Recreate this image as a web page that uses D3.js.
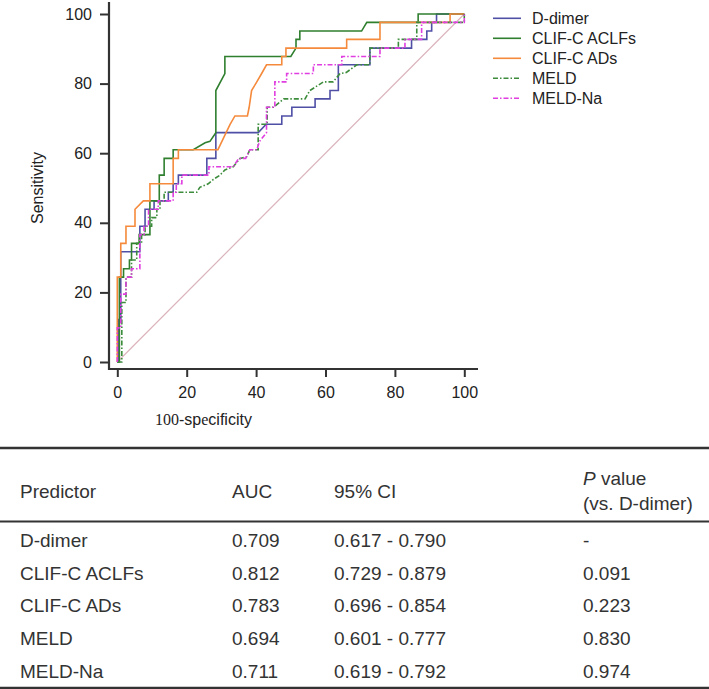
<!DOCTYPE html>
<html><head><meta charset="utf-8">
<script src="https://cdn.jsdelivr.net/npm/d3@7/dist/d3.min.js"></script>
<style>body{margin:0;background:#fff}svg{display:block}</style>
</head><body><svg id="c" width="709" height="689"></svg>
<script>
// ---- data (100-specificity, sensitivity) ----
const seriesNames = ["D-dimer","CLIF-C ACLFs","CLIF-C ADs","MELD","MELD-Na"];
const dDimer = [[0,0],[0.3,0],[0.3,12.2],[1.0,12.2],[1.0,31.7],[6.5,31.7],[6.5,39.0],[8.0,39.0],[8.0,43.9],[10.6,43.9],[10.6,46.3],[14.7,46.3],[14.7,48.8],[16.1,48.8],[16.1,51.2],[17.6,51.2],[17.6,53.7],[25.8,53.7],[25.8,58.5],[28.4,58.5],[28.4,65.9],[40.6,65.9],[42.9,68.3],[47.4,68.3],[47.4,70.7],[50.3,70.7],[50.3,73.2],[57.0,73.2],[57.0,75.6],[61.3,75.6],[61.3,78.0],[63.7,78.0],[63.7,85.4],[72.8,85.4],[72.8,90.2],[84.8,90.2],[84.8,92.7],[89.2,92.7],[89.2,95.1],[90.6,95.1],[90.6,97.6],[92.0,97.6],[92.0,100],[100,100]];
const clifAclf = [[0,0],[0.6,0],[0.6,24.4],[1.8,24.4],[1.8,26.8],[3.5,26.8],[3.5,29.3],[4.1,29.3],[4.1,34.1],[6.3,34.1],[6.3,36.6],[9.4,36.6],[9.4,46.3],[12.1,46.3],[12.1,53.7],[13.5,53.7],[13.5,58.5],[16.1,58.5],[16.1,61.0],[21.9,61.0],[25.3,63.0],[26.7,63.4],[28.4,65.9],[28.4,78.0],[31.0,82.9],[31.0,87.8],[50.0,87.8],[51.5,90.2],[51.5,92.7],[52.6,92.7],[52.6,95.1],[70.4,95.1],[71.9,97.6],[86.7,97.6],[86.7,100],[100,100]];
const clifAd = [[0,0],[0,24.4],[1.0,24.4],[1.0,34.1],[2.5,34.1],[2.5,39.0],[5.1,39.0],[5.1,43.9],[7.5,46.3],[9.4,46.3],[9.4,51.2],[16.1,51.2],[16.1,58.5],[17.6,58.5],[17.6,61.0],[29.0,61.0],[32.5,68.3],[33.9,70.7],[37.5,70.7],[38.0,73.2],[38.7,78.0],[40.2,80.5],[41.6,82.9],[43.0,85.4],[47.4,85.4],[47.4,87.8],[48.6,87.8],[48.6,90.2],[66.1,90.2],[66.1,92.7],[75.7,92.7],[75.7,97.6],[95.9,97.6],[95.9,100],[100,100]];
const meld = [[0,0],[1.3,0],[1.3,17.1],[2.5,17.1],[2.5,24.4],[4.1,24.4],[4.1,29.3],[5.6,29.3],[5.6,34.1],[7.0,34.1],[7.0,36.6],[8.0,36.6],[8.0,39.0],[9.9,39.0],[9.9,41.5],[11.4,41.5],[11.4,43.9],[12.3,43.9],[12.3,46.3],[13.5,46.3],[13.5,48.8],[22.9,48.8],[23.8,50.2],[26.2,51.2],[27.7,52.5],[29.6,53.7],[31.0,55.2],[33.4,56.1],[35.4,58.5],[37.3,59.0],[38.2,61.0],[40.6,61.0],[40.6,68.3],[43.2,68.3],[43.2,73.2],[45.0,73.2],[48.0,75.6],[54.1,75.6],[55.5,78.0],[59.4,80.5],[62.2,80.5],[64.2,82.9],[66.0,83.2],[69.0,85.4],[72.8,85.4],[72.8,90.2],[81.0,90.2],[81.0,92.7],[86.3,92.7],[86.3,97.6],[100,97.6],[100,100]];
const meldNa = [[0,0],[0,9.8],[1.0,9.8],[1.0,19.5],[2.5,19.5],[2.5,24.4],[4.1,24.4],[4.1,26.8],[6.5,26.8],[6.5,36.6],[7.7,36.6],[7.7,39.0],[9.0,39.0],[9.0,43.9],[11.8,43.9],[11.8,46.3],[16.1,46.3],[16.1,48.8],[17.0,48.8],[17.0,51.2],[18.6,51.2],[18.6,53.7],[26.4,53.7],[26.4,56.1],[33.4,56.1],[35.0,58.5],[37.0,58.5],[38.2,61.0],[40.2,61.0],[41.0,63.4],[43.0,65.9],[43.0,73.2],[45.4,73.2],[45.4,80.5],[48.8,80.5],[48.8,82.9],[56.5,82.9],[56.5,85.4],[64.7,85.4],[64.7,87.8],[75.7,87.8],[75.7,90.2],[82.9,90.2],[82.9,92.7],[87.7,92.7],[87.7,97.6],[100,97.6],[100,100]];
const referenceLine = [[0,0],[100,100]];
const xTicks = [0,20,40,60,80,100];
const yTicks = [0,20,40,60,80,100];

const tableHeaders = ["Predictor","AUC","95% CI"];
const predictors = ["D-dimer","CLIF-C ACLFs","CLIF-C ADs","MELD","MELD-Na"];
const aucValues = ["0.709","0.812","0.783","0.694","0.711"];
const ciValues = ["0.617 - 0.790","0.729 - 0.879","0.696 - 0.854","0.601 - 0.777","0.619 - 0.792"];
const pValues = ["-","0.091","0.223","0.830","0.974"];

// ---- styles ----
const seriesData = [dDimer, clifAclf, clifAd, meld, meldNa];
const colors = ["#4f4fa6","#2f7f2f","#f58a3c","#3c8c3c","#e03ee0"];
const dashes = [null,null,null,"5,2,1.5,2","5,2,1.5,2"];
const sansFont = "'Liberation Sans', Arial, sans-serif";
const serifFont = "'Liberation Serif', 'Times New Roman', serif";

const svg = d3.select("#c");
const x = d3.scaleLinear().domain([0,100]).range([117.3,464.3]);
const y = d3.scaleLinear().domain([0,100]).range([362,14]);
const axisX0 = 109, axisY0 = 369;

// axes
const gy = svg.append("g").attr("transform",`translate(${axisX0},0)`)
  .call(d3.axisLeft(y).tickValues(yTicks).tickSize(9).tickPadding(8));
const gx = svg.append("g").attr("transform",`translate(0,${axisY0})`)
  .call(d3.axisBottom(x).tickValues(xTicks).tickSize(8).tickPadding(10));
[gx,gy].forEach(g=>{
  g.select(".domain").remove();
  g.selectAll("line").attr("stroke","#333").attr("stroke-width",2);
  g.selectAll("text").attr("font-family",sansFont).attr("font-size",16).attr("fill","#222");
});
svg.append("line").attr("x1",axisX0).attr("x2",axisX0).attr("y1",2).attr("y2",axisY0+1)
  .attr("stroke","#333").attr("stroke-width",2.2);
svg.append("line").attr("x1",axisX0-1).attr("x2",478).attr("y1",axisY0).attr("y2",axisY0)
  .attr("stroke","#333").attr("stroke-width",2.2);

// axis titles
svg.append("text").attr("transform","translate(43,188) rotate(-90)")
  .attr("text-anchor","middle").attr("font-family",sansFont).attr("font-size",16).attr("fill","#222")
  .text("Sensitivity");
// x title: mixed fonts, laid out as separate pieces
const xTitleParts = [["100",serifFont],["-sp",sansFont],["e",serifFont],["cificity",sansFont]];
let cx = 155;
xTitleParts.forEach(([t,f])=>{
  const el = svg.append("text").attr("x",cx).attr("y",425).attr("font-family",f)
    .attr("font-size",16).attr("fill","#222").text(t);
  cx += el.node().getComputedTextLength();
});

// reference diagonal
const line = d3.line().x(d=>x(d[0])).y(d=>y(d[1]));
svg.append("path").attr("d",line(referenceLine)).attr("fill","none")
  .attr("stroke","#dbb4bc").attr("stroke-width",1.2);

// ROC curves
seriesData.forEach((s,i)=>{
  svg.append("path").attr("d",line(s)).attr("fill","none")
    .attr("stroke",colors[i]).attr("stroke-width",1.6)
    .attr("stroke-dasharray",dashes[i]);
});

// legend
const lg = svg.append("g");
seriesNames.forEach((n,i)=>{
  const ly = 18.3 + i*20;
  lg.append("line").attr("x1",493).attr("x2",521).attr("y1",ly).attr("y2",ly)
    .attr("stroke",colors[i]).attr("stroke-width",1.6).attr("stroke-dasharray",dashes[i]);
  lg.append("text").attr("x",532).attr("y",ly+5.7).attr("font-family",sansFont)
    .attr("font-size",16).attr("fill","#222").text(n);
});

// table
const colX = [20,232,334,583];
const tg = svg.append("g").attr("font-family",sansFont).attr("font-size",19).attr("fill","#333");
function tText(tx,ty){
  return tg.append("text").attr("x",tx).attr("y",ty);
}
svg.append("line").attr("x1",0).attr("x2",709).attr("y1",448).attr("y2",448).attr("stroke","#333").attr("stroke-width",2.4);
svg.append("line").attr("x1",0).attr("x2",709).attr("y1",521.5).attr("y2",521.5).attr("stroke","#333").attr("stroke-width",2.2);
svg.append("line").attr("x1",0).attr("x2",709).attr("y1",687.8).attr("y2",687.8).attr("stroke","#333").attr("stroke-width",2.2);
tableHeaders.forEach((h,i)=>tText(colX[i],498).text(h));
const ph = tText(colX[3],485);
ph.append("tspan").attr("font-style","italic").text("P");
ph.append("tspan").text(" value");
tText(colX[3],510).text("(vs. D-dimer)");
const rowY = [547,580,612,645,678];
predictors.forEach((p,i)=>{
  tText(colX[0],rowY[i]).text(p);
  tText(colX[1],rowY[i]).text(aucValues[i]);
  tText(colX[2],rowY[i]).text(ciValues[i]);
  tText(colX[3],rowY[i]).text(pValues[i]);
});
</script></body></html>
